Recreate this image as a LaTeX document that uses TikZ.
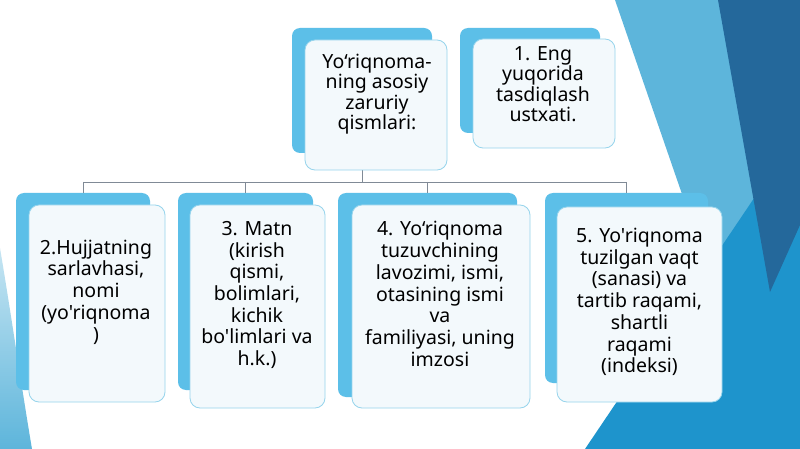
\documentclass[tikz,border=0pt]{standalone}
\usepackage{fontspec}
\setmainfont{Noto Sans}[Ligatures=TeXOff]
\usepackage{tikz}
\usetikzlibrary{positioning}
\usetikzlibrary{calc}

\definecolor{facetlight}{RGB}{93,181,219}
\definecolor{facetdark}{RGB}{36,104,155}
\definecolor{facetmid}{RGB}{30,148,204}
\definecolor{backcol}{RGB}{92,191,232}
\definecolor{frontfill}{RGB}{243,249,252}
\definecolor{frontline}{RGB}{150,212,236}
\definecolor{linkcol}{RGB}{128,138,150}

\tikzset{
  backbox/.style={rectangle, rounded corners=8pt, fill=backcol, inner sep=0pt},
  frontbox/.style={rectangle, rounded corners=10pt, fill=frontfill, draw=frontline, line width=0.8pt, inner sep=0pt},
  boxtext/.style={align=center, font=\fontsize{19.5}{21.7}\selectfont, inner sep=0pt},
  toptext/.style={boxtext, font=\fontsize{19.5}{20.5}\selectfont},
  link/.style={draw=linkcol, line width=0.8pt}
}

\begin{document}
\begin{tikzpicture}[x=1pt, y=-1pt]
  \useasboundingbox (0,0) rectangle (800,449);
  \fill[white] (0,0) rectangle (800,449);

  % Background facets on the right and the left
  \fill[facetlight] (615,0) -- (800,0) -- (800,449) -- (770,449) -- cycle;
  \fill[facetmid] (585,449) -- (800,130) -- (800,449) -- cycle;
  \fill[facetdark] (718,0) -- (800,0) -- (800,225) -- (770,292) -- cycle;
  \shade[top color=facetlight!35, bottom color=facetlight] (0,248) .. controls (12,320) and (22,390) .. (32,449) -- (0,449) -- cycle;

  % Back boxes
  \node[backbox, minimum width=140pt, minimum height=125pt] (b0) at (362,90.5) {};
  \node[backbox, minimum width=140pt, minimum height=105pt] (b1) at (530,80.5) {};
  \node[backbox, minimum width=134pt, minimum height=197pt] (b2) at (83,291.5) {};
  \node[backbox, minimum width=135pt, minimum height=197pt] (b3) at (245.5,291.5) {};
  \node[backbox, minimum width=179pt, minimum height=204pt] (b4) at (427.5,295) {};
  \node[backbox, minimum width=163pt, minimum height=190pt] (b5) at (626.5,288) {};

  % Connectors
  \coordinate (bus) at (0,182);
  \draw[link] (b0.south) -- (b0.south |- bus);
  \draw[link] (b2.north |- bus) -- (b5.north |- bus);
  \foreach \i in {2,...,5} {
    \draw[link] (b\i.north |- bus) -- (b\i.north);
  }

  % Front boxes
  \node[frontbox, minimum width=142pt, minimum height=130pt] (f0) at (376,105) {};
  \node[frontbox, minimum width=142pt, minimum height=109pt] (f1) at (544,93.5) {};
  \node[frontbox, minimum width=136pt, minimum height=197pt] (f2) at (97,303.5) {};
  \node[frontbox, minimum width=135pt, minimum height=203pt] (f3) at (257.5,306.5) {};
  \node[frontbox, minimum width=178pt, minimum height=203pt] (f4) at (441,306.5) {};
  \node[frontbox, minimum width=165pt, minimum height=195pt] (f5) at (639.5,304.5) {};

  % Texts
  \node[toptext] (t0) at (377,94) {Yo‘riqnoma-\\ning asosiy\\zaruriy\\qismlari:};
  \node[toptext] (t1) at (543,84) {1. Eng\\yuqorida\\tasdiqlash\\ustxati.};
  \node[boxtext] (t2) at (96,292) {2.Hujjatning\\sarlavhasi,\\nomi\\(yo'riqnoma\\)};
  \node[boxtext] (t3) at (257,295) {3. Matn\\(kirish\\qismi,\\bolimlari,\\kichik\\bo'limlari va\\h.k.)};
  \node[boxtext] (t4) at (440,294) {4. Yo‘riqnoma\\tuzuvchining\\lavozimi, ismi,\\otasining ismi\\va\\familiyasi, uning\\imzosi};
  \node[boxtext] (t5) at (639.5,302) {5. Yo'riqnoma\\tuzilgan vaqt\\(sanasi) va\\tartib raqami,\\shartli\\raqami\\(indeksi)};
\end{tikzpicture}
\end{document}
